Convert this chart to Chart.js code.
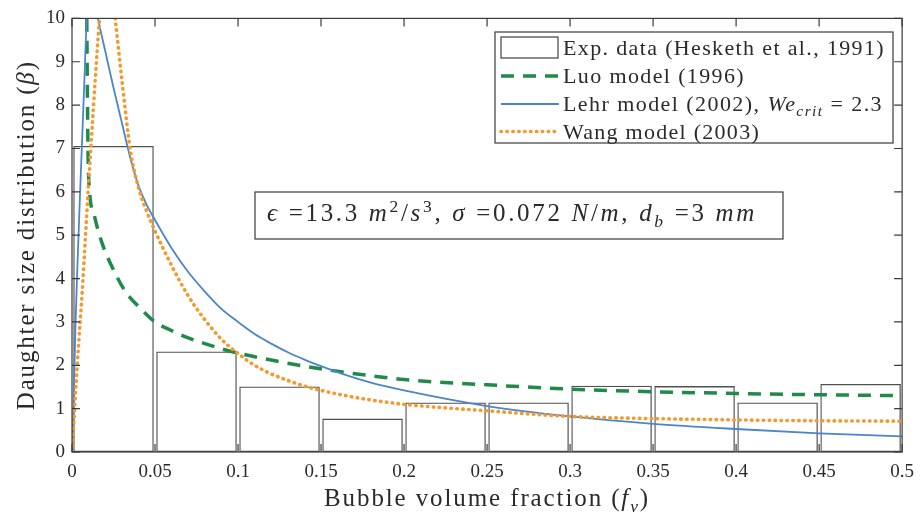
<!DOCTYPE html>
<html><head><meta charset="utf-8">
<script src="https://cdn.jsdelivr.net/npm/chart.js@4.4.0/dist/chart.umd.min.js"></script>
<style>html,body{margin:0;padding:0;background:#fff}#wrap{width:923px;height:517px;position:relative}</style>
</head><body><div id="wrap"><canvas id="c"></canvas></div>
<script>
const FAMILY = '"Liberation Serif", "Times New Roman", serif';

// ---- data ----
const xTickLabels = ['0','0.05','0.1','0.15','0.2','0.25','0.3','0.35','0.4','0.45','0.5'];
const yTickLabels = ['0','1','2','3','4','5','6','7','8','9','10'];

const binCenters = [0.025, 0.075, 0.125, 0.175, 0.225, 0.275, 0.325, 0.375, 0.425, 0.475];
const expValues  = [7.06, 2.32, 1.51, 0.77, 1.14, 1.14, 1.53, 1.52, 1.14, 1.57];

const luoX = [0.0088, 0.0092, 0.0097, 0.0105, 0.0135, 0.018, 0.024, 0.032, 0.0407, 0.05, 0.06, 0.07, 0.08, 0.09, 0.1, 0.12, 0.14, 0.16, 0.18, 0.2, 0.25, 0.3, 0.35, 0.4, 0.45, 0.5];
const luoY = [10.5, 8.6, 6.8, 6.05, 5.45, 4.83, 4.28, 3.71, 3.33, 3.0, 2.8, 2.63, 2.5, 2.38, 2.28, 2.12, 1.98, 1.86, 1.76, 1.67, 1.55, 1.45, 1.39, 1.35, 1.32, 1.3];

const lehrX = [0, 0.001, 0.002, 0.003, 0.0045, 0.006, 0.0075, 0.009, 0.0105, 0.0125, 0.0156, 0.02, 0.025, 0.03, 0.035, 0.04, 0.045, 0.05, 0.06, 0.07, 0.08, 0.09, 0.1, 0.11, 0.12, 0.13, 0.14, 0.15, 0.166, 0.18, 0.2, 0.25, 0.3, 0.35, 0.4, 0.45, 0.5];
const lehrY = [0, 1.2, 2.8, 4.0, 5.6, 7.1, 8.6, 10.2, 11.0, 10.6, 10.0, 9.25, 8.4, 7.6, 6.8, 6.15, 5.7, 5.35, 4.7, 4.15, 3.7, 3.3, 3.0, 2.72, 2.5, 2.3, 2.13, 1.98, 1.76, 1.6, 1.42, 1.06, 0.82, 0.65, 0.53, 0.43, 0.36];

const wangX = [0, 0.001, 0.002, 0.003, 0.004, 0.006, 0.008, 0.01, 0.012, 0.014, 0.0166, 0.019, 0.021, 0.023, 0.026, 0.03, 0.035, 0.04, 0.045, 0.05, 0.06, 0.07, 0.08, 0.09, 0.1, 0.11, 0.12, 0.13, 0.14, 0.15, 0.166, 0.18, 0.2, 0.25, 0.3, 0.35, 0.4, 0.45, 0.5];
const wangY = [0, 0.6, 1.3, 1.9, 2.5, 3.6, 4.9, 6.2, 7.4, 8.6, 10.0, 11.0, 11.3, 11.0, 10.0, 8.6, 7.0, 6.1, 5.55, 5.1, 4.3, 3.6, 3.05, 2.6, 2.27, 2.0, 1.8, 1.65, 1.52, 1.42, 1.29, 1.2, 1.1, 0.95, 0.82, 0.77, 0.74, 0.72, 0.71];

// ---- text (rich segments: [text, style]) ----
const legendLabels = [
  [['Exp. data (Hesketh et al., 1991)', 'n']],
  [['Luo model (1996)', 'n']],
  [['Lehr model (2002), ', 'n'], ['We', 'i'], ['crit', 'isub'], [' = 2.3', 'n']],
  [['Wang model (2003)', 'n']]
];
const annotationText = [['\u03F5', 'i'], [' =13.3 ', 'n'], ['m', 'i'], ['2', 'sup'], ['/', 'n'], ['s', 'i'], ['3', 'sup'], [', ', 'n'], ['\u03C3', 'i'], [' =0.072 ', 'n'], ['N', 'i'], ['/', 'n'], ['m', 'i'], [', ', 'n'], ['d', 'i'], ['b', 'isub'], [' =3 ', 'n'], ['mm', 'i']];
const xTitle = [['Bubble volume fraction (', 'n'], ['f', 'i'], ['v', 'isub'], [')', 'n']];
const yTitle = [['Daughter size distribution (', 'n'], ['\u03B2', 'i'], [')', 'n']];

const zip = (xs, ys) => xs.map((x, i) => ({x, y: ys[i]}));

function richParts(ctx, segs, size) {
  return segs.map(([t, st]) => {
    const small = st.includes('sub') || st.includes('sup');
    const fs = small ? size * 0.7 : size;
    const font = (st.startsWith('i') ? 'italic ' : '') + fs + 'px ' + FAMILY;
    ctx.font = font;
    ctx.letterSpacing = '0px';
    const w = ctx.measureText(t).width;
    const dy = st.includes('sup') ? -size * 0.38 : (st.includes('sub') ? size * 0.22 : 0);
    return {t, font, w, dy, n: t.length};
  });
}
// draws rich text; if width is given, letter spacing is set so the text spans that width
function drawRich(ctx, segs, x, y, size, align, width) {
  const parts = richParts(ctx, segs, size);
  const natural = parts.reduce((s, p) => s + p.w, 0);
  const nChars = parts.reduce((s, p) => s + p.n, 0);
  const ls = width ? Math.max(0, (width - natural) / nChars) : 0;
  const total = natural + ls * nChars;
  let cx = align === 'center' ? x - total / 2 : x;
  ctx.textAlign = 'left';
  ctx.textBaseline = 'alphabetic';
  parts.forEach(p => {
    ctx.font = p.font;
    ctx.letterSpacing = ls + 'px';
    ctx.fillText(p.t, cx, y + p.dy);
    cx += p.w + ls * p.n;
  });
  ctx.letterSpacing = '0px';
  return total;
}

const decor = {
  id: 'decor',
  afterDatasetsDraw(chart) {
    const {ctx, chartArea: a, scales: {x, y}} = chart;
    ctx.save();
    // axes box
    ctx.strokeStyle = '#3a3a3a';
    ctx.lineWidth = 1.2;
    ctx.strokeRect(a.left, a.top, a.right - a.left, a.bottom - a.top);
    // inward ticks on all four sides
    const L = 8;
    ctx.beginPath();
    x.ticks.forEach(t => {
      const px = x.getPixelForValue(t.value);
      ctx.moveTo(px, a.bottom); ctx.lineTo(px, a.bottom - L);
      ctx.moveTo(px, a.top); ctx.lineTo(px, a.top + L);
    });
    y.ticks.forEach(t => {
      const py = y.getPixelForValue(t.value);
      ctx.moveTo(a.left, py); ctx.lineTo(a.left + L, py);
      ctx.moveTo(a.right, py); ctx.lineTo(a.right - L, py);
    });
    ctx.stroke();

    ctx.fillStyle = '#2a2a2a';
    // axis titles
    drawRich(ctx, xTitle, (a.left + a.right) / 2, 506, 25, 'center', 326);
    ctx.save();
    ctx.translate(34, (a.top + a.bottom) / 2);
    ctx.rotate(-Math.PI / 2);
    drawRich(ctx, yTitle, 0, 0, 25, 'center', 350);
    ctx.restore();

    // annotation box
    const bx = 255, by = 192, bw = 528, bh = 47;
    ctx.fillStyle = '#fff';
    ctx.fillRect(bx, by, bw, bh);
    ctx.strokeStyle = '#3a3a3a';
    ctx.lineWidth = 1.2;
    ctx.strokeRect(bx, by, bw, bh);
    ctx.fillStyle = '#2a2a2a';
    drawRich(ctx, annotationText, bx + 12, by + 29, 25, 'left', 490);

    // legend box
    const lx = 495, ly = 32, lw = 398, lh = 111;
    ctx.fillStyle = '#fff';
    ctx.fillRect(lx, ly, lw, lh);
    ctx.strokeRect(lx, ly, lw, lh);
    const rows = [15.5, 44, 72, 99.5];
    const widths = [322, 182, 320, 197];
    const ds = chart.data.datasets;
    ds.forEach((d, r) => {
      const cy = ly + rows[r];
      ctx.save();
      ctx.strokeStyle = d.borderColor;
      ctx.lineWidth = d.borderWidth;
      if (d.type === 'bar') {
        ctx.strokeRect(lx + 6, cy - 10.5, 57, 21);
      } else {
        ctx.setLineDash(d.borderDash || []);
        ctx.lineCap = d.borderCapStyle || 'butt';
        ctx.beginPath();
        ctx.moveTo(lx + 6, cy); ctx.lineTo(lx + 64, cy);
        ctx.stroke();
      }
      ctx.restore();
      ctx.fillStyle = '#2a2a2a';
      drawRich(ctx, legendLabels[r], lx + 68, cy + 7, 22, 'left', widths[r]);
    });
    ctx.restore();
  }
};

new Chart(document.getElementById('c'), {
  type: 'bar',
  data: {
    datasets: [
      {
        type: 'bar', label: 'Exp. data (Hesketh et al., 1991)',
        data: zip(binCenters, expValues),
        backgroundColor: 'rgba(255,255,255,0)', borderColor: '#505050', borderWidth: 1.3,
        borderSkipped: false, barPercentage: 0.97, categoryPercentage: 1, order: 10
      },
      {
        type: 'line', label: 'Luo model (1996)', data: zip(luoX, luoY),
        borderColor: '#1f8a4a', borderWidth: 3.5, borderDash: [13, 9], pointRadius: 0,
        cubicInterpolationMode: 'monotone', fill: false, order: 3, clip: 0
      },
      {
        type: 'line', label: 'Lehr model (2002)', data: zip(lehrX, lehrY),
        borderColor: '#4a86c8', borderWidth: 1.8, pointRadius: 0,
        cubicInterpolationMode: 'monotone', fill: false, order: 2, clip: 0
      },
      {
        type: 'line', label: 'Wang model (2003)', data: zip(wangX, wangY),
        borderColor: '#f39a2e', borderWidth: 3.6, borderDash: [0.5, 5.4], borderCapStyle: 'round', pointRadius: 0,
        cubicInterpolationMode: 'monotone', fill: false, order: 1, clip: 0
      }
    ]
  },
  options: {
    responsive: true, maintainAspectRatio: false, animation: false,
    layout: {padding: {left: 0, right: 17, top: 16, bottom: 0}},
    plugins: {legend: {display: false}, tooltip: {enabled: false}},
    scales: {
      x: {
        type: 'linear', min: 0, max: 0.5, offset: false,
        grid: {display: false, drawTicks: false}, border: {display: false},
        ticks: {stepSize: 0.05, padding: 9, color: '#2a2a2a', maxRotation: 0,
          font: {family: FAMILY, size: 19},
          callback: (v, i) => xTickLabels[i]},
        afterFit: s => { s.height = 65; }
      },
      y: {
        type: 'linear', min: 0, max: 10,
        grid: {display: false, drawTicks: false}, border: {display: false},
        ticks: {stepSize: 1, padding: 7, color: '#2a2a2a',
          font: {family: FAMILY, size: 19},
          callback: (v, i) => yTickLabels[i]},
        afterFit: s => { s.width = 72; }
      }
    }
  },
  plugins: [decor]
});
</script>
</body></html>
